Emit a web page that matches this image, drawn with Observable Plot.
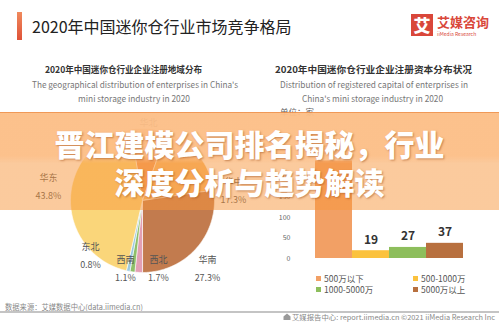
<!DOCTYPE html>
<html><head><meta charset="utf-8">
<script src="https://cdn.jsdelivr.net/npm/d3@7"></script>
<script src="https://cdn.jsdelivr.net/npm/@observablehq/plot@0.6"></script>
<style>
html,body{margin:0;padding:0;background:#fff;}
#root{position:relative;width:499px;height:324px;overflow:hidden;background:#fff;font-family:"Noto Sans CJK SC","Noto Sans",sans-serif;}
#root > *{position:absolute;}
</style></head><body><div id="root"></div>
<script>
// ---------- data ----------
const regions      = ["华北","华中","华南","西北","西南","东北","华东"];
const regionShare  = [8.0, 17.3, 27.3, 1.7, 1.1, 0.8, 43.8];
const regionColors = ["#F29C5A","#F6B96B","#C27B4E","#E3A0B4","#8FBF6A","#9CC9E0","#FAD67A"];

const capitalCats   = ["500万以下","500-1000万","1000-5000万","5000万以上"];
const capitalCounts = [238, 19, 27, 37];
const capitalColors = ["#F2A065","#FBC23E","#8DBE5C","#B8703F"];
const yTicks = [0, 50, 100, 150, 200, 250];

const titleText = "2020年中国迷你仓行业市场竞争格局";
const bannerLines = ["晋江建模公司排名揭秘，行业","深度分析与趋势解读"];

// ---------- layout helpers ----------
const root = document.getElementById("root");
const FONT = '"Noto Sans CJK SC","Noto Sans",sans-serif';
function div(css, html){const d=document.createElement("div");d.style.cssText=css;if(html!=null)d.innerHTML=html;root.appendChild(d);return d;}

// title bar
div("left:17px;top:12px;width:5px;height:28px;background:linear-gradient(#F08A5D,#DF5238);");
div("left:32px;top:13px;font-size:16px;line-height:26px;color:#222;white-space:nowrap;", titleText);
// logo
div("left:411px;top:14px;width:22px;height:22px;background:#D9473A;color:#fff;font-weight:900;font-size:17px;line-height:22px;text-align:center;","艾");
div("left:437px;top:13px;font-size:13px;line-height:18px;font-weight:700;color:#D9473A;white-space:nowrap;","艾媒咨询");
div("left:437px;top:31px;font-size:5px;line-height:6px;color:#D9473A;white-space:nowrap;","iiMedia Research");

// decorative texts (svg, with fitted lengths)
const deco = [
  {t:"2020年中国迷你仓行业企业注册地域分布", x:123.5, y:73.3, f:9.5, w:157, c:"#333", b:700, a:"middle"},
  {t:"The geographical distribution of enterprises in China's", x:135, y:88, f:8.5, w:206, c:"#777", b:400, a:"middle"},
  {t:"mini storage industry in 2020", x:134, y:102, f:8.5, w:112, c:"#777", b:400, a:"middle"},
  {t:"2020年中国迷你仓行业企业注册资本分布状况", x:373.5, y:73.3, f:9.5, w:197, c:"#333", b:700, a:"middle"},
  {t:"Distribution of registered capital of enterprises in", x:374, y:88, f:8.5, w:188, c:"#777", b:400, a:"middle"},
  {t:"China's mini storage industry in 2020", x:372.5, y:102, f:8.5, w:141, c:"#777", b:400, a:"middle"},
  {t:"单位：家", x:280, y:115, f:8, w:34, c:"#666", b:400, a:"start"},
  {t:"数据来源：艾媒数据中心(data.iimedia.cn)", x:5, y:309.5, f:7.5, w:138, c:"#888", b:400, a:"start"},
  {t:"艾媒报告中心: report.iimedia.cn ©2021 iiMedia Research Inc", x:292, y:319.5, f:7, w:203, c:"#888", b:400, a:"start"}
];
let svgTxt = deco.map(d=>`<text x="${d.x}" y="${d.y}" font-size="${d.f}" fill="${d.c}" font-weight="${d.b}" text-anchor="${d.a}" textLength="${d.w}" lengthAdjust="spacingAndGlyphs">${d.t.replace(/&/g,"&amp;")}</text>`).join("");
div("left:0;top:0;width:499px;height:324px;",
 `<svg width="499" height="324" font-family='${FONT}'>${svgTxt}
  <rect x="0" y="311" width="499" height="2" fill="#c4c4c4"/>
  <path d="M283.5 320 v-3.5 l3.5-3 l3.5 3 v3.5 z" fill="#999"/></svg>`);

// ---------- pie (Observable Plot) ----------
const pie = d3.pie().sort(null).value(d=>d.share)
  .startAngle((350.6-360)*Math.PI/180).endAngle(350.6*Math.PI/180);
const regionRows = regions.map((name,i)=>({name, share:regionShare[i]}));
const arcs = pie(regionRows);
const pts = [];
arcs.forEach(a=>{
  const n = Math.max(2, Math.ceil((a.endAngle-a.startAngle)/(Math.PI/180)));
  pts.push({name:a.data.name, x:0, y:0});
  for(let k=0;k<=n;k++){
    const t = a.startAngle + (a.endAngle-a.startAngle)*k/n;
    pts.push({name:a.data.name, x:Math.sin(t), y:Math.cos(t)});
  }
  pts.push({name:a.data.name, x:0, y:0});
});
// label placement (pie units, radius = 1)
const labelAt = {"东北":[-0.722,-0.653],"西南":[-0.236,-0.833],"西北":[0.222,-0.833],"华南":[0.903,-0.833],
                 "华东":[-1.306,0.306],"华中":[1.264,0.25],"华北":[0.083,1.069]};
const labelRows = regionRows.map(r=>({...r, lx:labelAt[r.name][0], ly:labelAt[r.name][1]}));

const pieSvg = Plot.plot({
  width:250, height:190, margin:0,
  style:{background:"transparent", fontFamily:FONT},
  x:{domain:[-1,1], range:[70,214], axis:null},
  y:{domain:[-1,1], range:[162,18], axis:null},
  color:{domain:regions, range:regionColors},
  marks:[
    Plot.line(pts,{x:"x", y:"y", z:"name", fill:"name", stroke:"#fff", strokeWidth:0.6, curve:"linear"}),
    Plot.text(labelRows,{x:"lx", y:"ly", text:"name", fontSize:9, fill:"#555"}),
    Plot.text(labelRows,{x:"lx", y:"ly", text:d=>d.share.toFixed(1)+"%", dy:18, fontSize:9, fill:"#555"})
  ]
});
pieSvg.style.position="absolute"; pieSvg.style.left="0px"; pieSvg.style.top="110px";
root.appendChild(pieSvg);

// ---------- bars (Observable Plot) ----------
const barRows = capitalCats.map((cat,i)=>({cat, n:capitalCounts[i]}));
const barSvg = Plot.plot({
  width:249, height:160, marginLeft:42, marginTop:0, marginRight:0, marginBottom:0,
  style:{background:"transparent", fontFamily:FONT},
  x:{domain:capitalCats, range:[65,213], padding:0, axis:null},
  y:{domain:[0,300], range:[148,25]},
  color:{domain:capitalCats, range:capitalColors},
  marks:[
    Plot.axisY({ticks:yTicks, tickSize:0, tickPadding:2, fontSize:7, color:"#666", label:null}),
    Plot.barY(barRows,{x:"cat", y:"n", fill:"cat"}),
    Plot.text(barRows,{x:"cat", y:"n", text:"n", dy:-11, fontSize:12, fontWeight:"bold", fill:"#333"})
  ]
});
barSvg.style.position="absolute"; barSvg.style.left="250px"; barSvg.style.top="110px";
root.appendChild(barSvg);

// legend
const leg = div("left:316px;top:273px;width:200px;display:grid;grid-template-columns:97px 97px;row-gap:1px;");
capitalCats.forEach((c,i)=>{
  const it=document.createElement("div");
  it.style.cssText="display:flex;align-items:center;font-size:8.5px;line-height:10px;color:#555;white-space:nowrap;";
  it.innerHTML=`<span style="display:inline-block;width:5px;height:5px;background:${capitalColors[i]};margin-right:3px"></span>${c}`;
  leg.appendChild(it);
});

// ---------- banner overlay ----------
div("left:0;top:112px;width:499px;height:98px;border-top:1px solid rgba(238,140,70,0.8);box-sizing:border-box;"+
    "background:linear-gradient(to bottom, rgba(252,190,134,0.95) 0%, rgba(252,190,134,0.95) 44%, rgba(247,150,60,0.5) 52%, rgba(247,150,60,0.5) 100%);");
bannerLines.forEach((t,i)=>{
  div(`left:0;top:${127+i*38}px;width:499px;text-align:center;font-size:30px;line-height:32px;font-weight:900;color:#fff;white-space:nowrap;text-shadow:1px 1px 2px rgba(160,80,30,0.55);`, t);
});
</script></body></html>
